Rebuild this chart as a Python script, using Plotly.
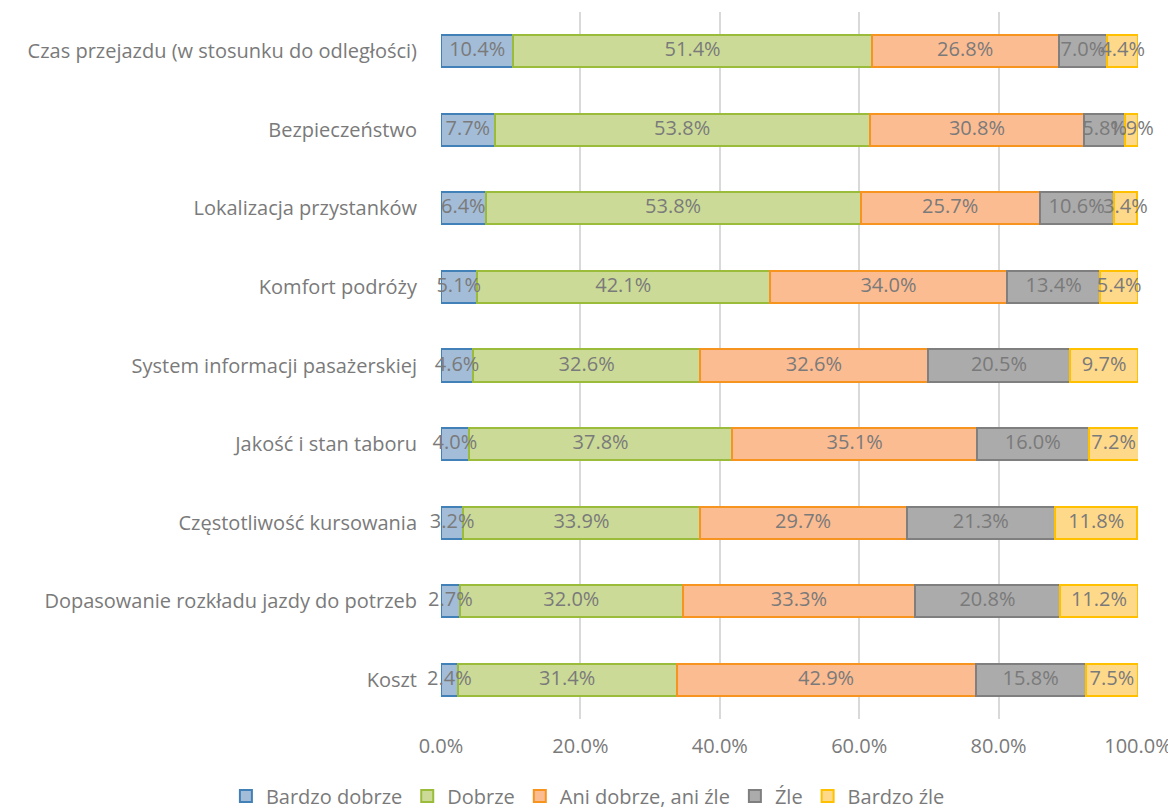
import plotly.graph_objects as go

categories = [
    "Czas przejazdu (w stosunku do odległości)",
    "Bezpieczeństwo",
    "Lokalizacja przystanków",
    "Komfort podróży",
    "System informacji pasażerskiej",
    "Jakość i stan taboru",
    "Częstotliwość kursowania",
    "Dopasowanie rozkładu jazdy do potrzeb",
    "Koszt",
]
series_names = ["Bardzo dobrze", "Dobrze", "Ani dobrze, ani źle", "Źle", "Bardzo źle"]
bardzo_dobrze = [0.104, 0.077, 0.064, 0.051, 0.046, 0.040, 0.032, 0.027, 0.024]
dobrze = [0.514, 0.538, 0.538, 0.421, 0.326, 0.378, 0.339, 0.320, 0.314]
ani = [0.268, 0.308, 0.257, 0.340, 0.326, 0.351, 0.297, 0.333, 0.429]
zle = [0.070, 0.058, 0.106, 0.134, 0.205, 0.160, 0.213, 0.208, 0.158]
bardzo_zle = [0.044, 0.019, 0.034, 0.054, 0.097, 0.072, 0.118, 0.112, 0.075]
x_ticks = [0, 0.2, 0.4, 0.6, 0.8, 1.0]

series_values = [bardzo_dobrze, dobrze, ani, zle, bardzo_zle]
fills = ["#A3BDD8", "#CCDA98", "#FCBC92", "#ABABAB", "#FFD98A"]
borders = ["#4181B8", "#9BBB3B", "#F79420", "#7F7F7F", "#FFC000"]

font_family = "Open Sans"
label_color = "#7A7A7A"
fig = go.Figure()
base = [0.0] * len(categories)
for name, vals, fc, bc in zip(series_names, series_values, fills, borders):
    fig.add_trace(go.Bar(
        y=categories, x=vals, name=name, orientation="h",
        marker=dict(color=fc, line=dict(color=bc, width=2)),
        width=0.41, hoverinfo="skip",
    ))
    mids = [b + v / 2 for b, v in zip(base, vals)]
    fig.add_trace(go.Scatter(
        y=categories, x=mids, mode="text",
        text=[f"{v * 100:.1f}%" for v in vals],
        textposition="middle center",
        textfont=dict(family=font_family, size=20, color=label_color),
        showlegend=False, cliponaxis=False, hoverinfo="skip",
    ))
    base = [b + v for b, v in zip(base, vals)]

fig.update_layout(
    barmode="stack",
    width=1168, height=803,
    margin=dict(l=433, r=38, t=4, b=92, autoexpand=False),
    paper_bgcolor="white", plot_bgcolor="white",
    font=dict(family=font_family, size=20, color=label_color),
    legend=dict(orientation="h", xref="paper", yref="paper",
                x=-0.3086, xanchor="left", y=-0.109, yanchor="middle",
                font=dict(family=font_family, size=20, color=label_color),
                itemwidth=30, traceorder="normal", tracegroupgap=0,
                bgcolor="rgba(0,0,0,0)"),
    xaxis=dict(range=[0, 1.0], tickvals=x_ticks, tickformat=".1%",
               showgrid=True, gridcolor="#D9D9D9", gridwidth=2,
               zeroline=False, showline=False,
               ticks="outside", ticklen=9, tickcolor="rgba(0,0,0,0)",
               tickfont=dict(family=font_family, size=20, color=label_color)),
    yaxis=dict(autorange="reversed", showgrid=False, zeroline=False, showline=False,
               ticks="outside", ticklen=19, tickcolor="rgba(0,0,0,0)",
               tickfont=dict(family=font_family, size=20, color=label_color)),
)
fig.write_html("out.html")
